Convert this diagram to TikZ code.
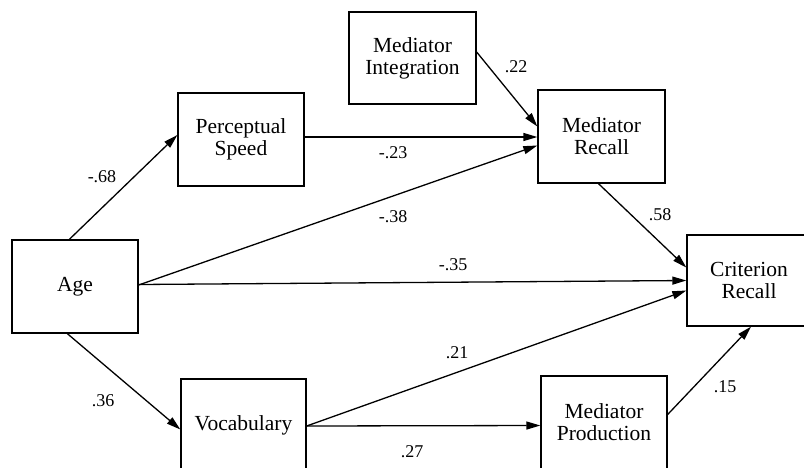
\documentclass[tikz,border=0pt]{standalone}
\usepackage{fontspec}
\setmainfont{Liberation Serif}
\usetikzlibrary{arrows.meta,calc}
\tikzset{
  box/.style={draw, line width=1.3pt, minimum width=126pt, minimum height=93pt, inner sep=0pt, align=center, font=\fontsize{21.5}{22}\selectfont},
  arr/.style={line width=1.3pt, -{Triangle[length=14pt,width=8pt]}},
  lbl/.style={font=\fontsize{18}{20}\selectfont, inner sep=0pt}
}
\begin{document}
\begin{tikzpicture}[x=1pt,y=-1pt]
\useasboundingbox (0,0) rectangle (804,467);
\clip (0,0) rectangle (804,467);
\fill[white] (0,0) rectangle (804,467);
\node[box, minimum width=127pt, minimum height=92pt] (MI) at (412.5,58) {Mediator\\Integration};
\node[box] (PS) at (241,139.5) {Perceptual\\Speed};
\node[box, minimum width=127pt] (MR) at (601.5,136.5) {Mediator\\Recall};
\node[box] (Age) at (75,286.5) {Age};
\node[box, minimum width=125pt] (Voc) at (243.5,425.5) {Vocabulary};
\node[box] (MP) at (604,422.5) {Mediator\\Production};
\node[box, minimum width=124pt, minimum height=91pt] (CR) at (749,280.5) {Criterion\\Recall};

\draw[arr] ($(Age.north west)+(58,0)$) -- ($(PS.west)+(0,-4.5)$);
\draw[arr] ($(PS.east)+(0,-2.5)$) -- ($(MR.west)+(0,0.5)$);
\draw[arr] ($(MI.east)+(0,-6)$) -- ($(MR.west)+(0,-10)$);
\draw[arr] ($(Age.east)+(0,-1.5)$) -- ($(MR.west)+(0,9)$);
\draw[arr] ($(Age.east)+(0,-2)$) -- ($(CR.west)+(0,0)$);
\draw[arr] ($(MR.south)+(-3,0)$) -- ($(CR.west)+(0,-13)$);
\draw[arr] ($(Voc.east)+(0,0.5)$) -- ($(CR.west)+(0,10)$);
\draw[arr] ($(Voc.east)+(0,0.5)$) -- ($(MP.west)+(0,3)$);
\draw[arr] ($(Age.south west)+(56,0)$) -- ($(Voc.west)+(0,4)$);
\draw[arr] ($(MP.east)+(0,-8)$) -- ($(CR.south)+(2,0)$);

\node[lbl] (l1) at (102,177) {-.68};
\node[lbl] (l2) at (393,153) {-.23};
\node[lbl] (l3) at (516,67) {.22};
\node[lbl] (l4) at (393,217) {-.38};
\node[lbl] (l5) at (453,265) {-.35};
\node[lbl] (l6) at (660,215) {.58};
\node[lbl] (l7) at (457,353) {.21};
\node[lbl] (l8) at (412,452) {.27};
\node[lbl] (l9) at (103,401) {.36};
\node[lbl] (l10) at (725,387) {.15};
\end{tikzpicture}
\end{document}
